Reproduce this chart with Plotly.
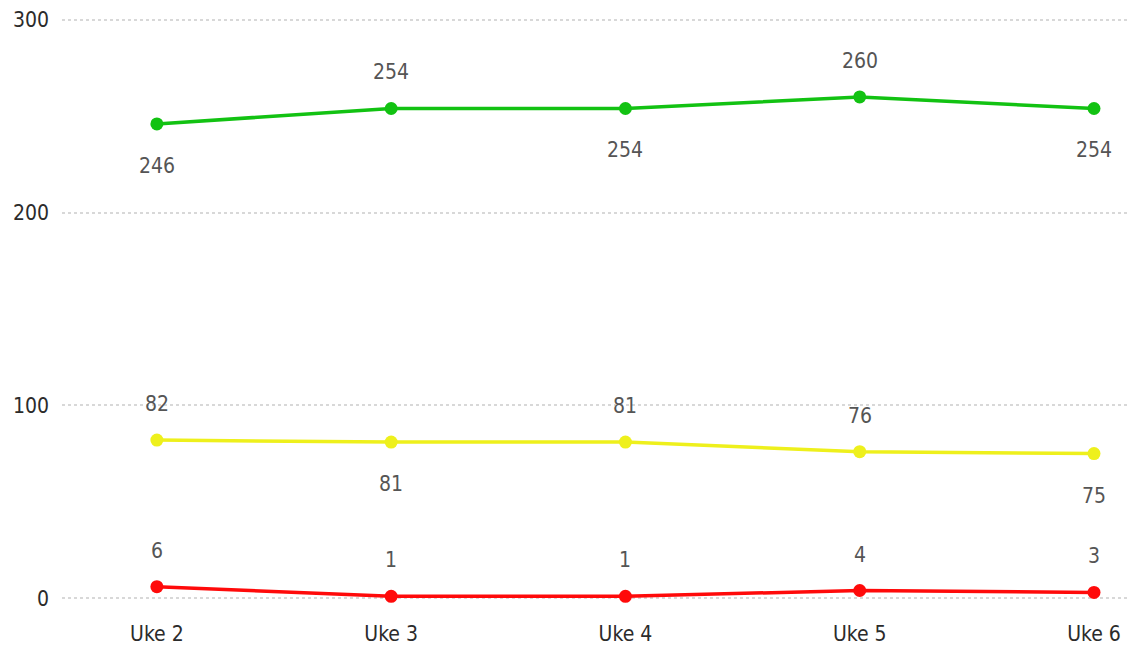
import plotly.graph_objects as go

weeks = ["Uke 2", "Uke 3", "Uke 4", "Uke 5", "Uke 6"]
green_vals = [246, 254, 254, 260, 254]
yellow_vals = [82, 81, 81, 76, 75]
red_vals = [6, 1, 1, 4, 3]

# label placement per point: 1 = above, -1 = below
green_side = [-1, 1, -1, 1, -1]
yellow_side = [1, -1, 1, 1, -1]
red_side = [1, 1, 1, 1, 1]

series = [
    ("Grønn", green_vals, green_side, "#12C212"),
    ("Gul", yellow_vals, yellow_side, "#EEF01C"),
    ("Rød", red_vals, red_side, "#FF0A0A"),
]

FONT = "DejaVu Sans Condensed, Liberation Sans Narrow, sans-serif"

fig = go.Figure()
for name, vals, sides, color in series:
    fig.add_trace(
        go.Scatter(
            x=weeks,
            y=vals,
            name=name,
            mode="lines+markers",
            line=dict(color=color, width=3.5),
            marker=dict(color=color, size=13),
            cliponaxis=False,
        )
    )
    for wk, v, s in zip(weeks, vals, sides):
        fig.add_annotation(
            x=wk,
            y=v,
            text=str(v),
            showarrow=False,
            yshift=36 if s > 0 else -42,
            font=dict(size=21, color="#555555", family=FONT),
        )

# the page body has an 8px margin, so the figure is made a bit smaller
fig.update_layout(
    width=1127,
    height=640,
    margin=dict(l=54, r=0, t=6, b=44),
    paper_bgcolor="white",
    plot_bgcolor="white",
    showlegend=False,
    font=dict(family=FONT, color="#2b2b2b"),
)
fig.update_xaxes(
    range=[-0.405, 4.175],
    showgrid=False,
    showline=False,
    zeroline=False,
    ticks="",
    tickfont=dict(size=21, color="#2b2b2b"),
    ticklabelstandoff=15,
    automargin=False,
)
fig.update_yaxes(
    range=[-3, 303],
    tickvals=[0, 100, 200, 300],
    showgrid=True,
    gridcolor="#D8D8D8",
    gridwidth=2,
    griddash="dot",
    zeroline=False,
    showline=False,
    ticks="",
    tickfont=dict(size=21, color="#2b2b2b"),
    ticklabelstandoff=12,
    automargin=False,
)

fig.write_html("out.html")
